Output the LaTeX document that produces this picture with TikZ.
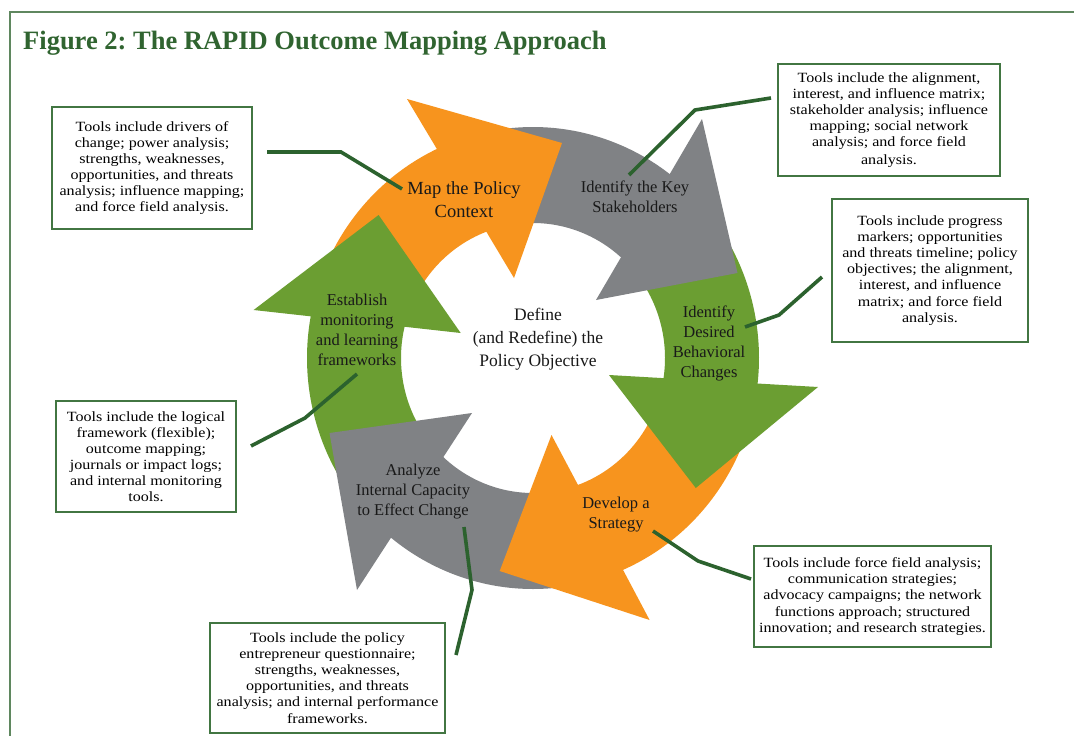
\documentclass[tikz,border=0pt]{standalone}
\usepackage{fontspec}
\setmainfont{Liberation Serif}
\newfontfamily\boxfont[FakeStretch=1.14]{Liberation Serif}
\definecolor{orng}{RGB}{247,148,30}
\definecolor{gry}{RGB}{128,130,133}
\definecolor{grn}{RGB}{107,158,50}
\definecolor{lnk}{RGB}{44,98,46}
\definecolor{bord}{RGB}{66,118,66}
\definecolor{ttl}{RGB}{48,100,48}
\definecolor{frm}{RGB}{95,135,95}
\newcommand\ringband[3]{\fill[#1] plot[domain=#2:#3,samples=60] ({533+226*cos(\x)},{358-231*sin(\x)}) -- plot[domain=#3:#2,samples=60] ({533+132*cos(\x)},{358-135*sin(\x)}) -- cycle;}
\tikzset{
  toolbox/.style={draw=bord, line width=1.1pt, fill=white, align=center, inner sep=0pt,
    font=\boxfont\fontsize{14.1}{16.1}\selectfont},
  steplabel/.style={align=center, inner sep=0pt, text=black!90,
    font=\fontsize{16.5}{20}\selectfont},
  link/.style={draw=lnk, line width=3.6pt, line join=miter}
}
\frenchspacing
\begin{document}
\begin{tikzpicture}[x=1pt,y=-1pt]
\useasboundingbox (0,0) rectangle (1074,736);
\fill[white] (0,0) rectangle (1074,736);
% frame
\draw[frm, line width=1.8pt] (10,736) -- (10,12) -- (1074,12);
% title
\node[anchor=base west, inner sep=0pt, text=ttl, font=\fontsize{26.5}{30}\selectfont\bfseries] (title) at (23,49) {Figure 2: The RAPID Outcome Mapping Approach};

% ring bands
\ringband{orng}{163}{110}
\ringband{gry}{107}{45}
\ringband{grn}{44}{-11}
\ringband{orng}{-13}{-71}
\ringband{gry}{-74}{-133}
\ringband{grn}{-136}{-194}
% arrow heads
\fill[orng] (407,99) -- (562,143) -- (514,278) -- cycle;
\fill[gry] (702,119) -- (737.5,273) -- (596,300) -- cycle;
\fill[grn] (609,375) -- (818,387) -- (695.8,488) -- cycle;
\fill[orng] (551.5,435) -- (649.6,620) -- (499.7,571) -- cycle;
\fill[gry] (472,413) -- (329.5,433) -- (357,590) -- cycle;
\fill[grn] (253.6,310) -- (378.6,215) -- (460.7,333) -- cycle;

% step labels
\node[steplabel, font=\fontsize{18.5}{23}\selectfont] (map) at (464,200) {Map the Policy\\Context};
\node[steplabel] (key) at (635,197) {Identify the Key\\Stakeholders};
\node[steplabel] (desired) at (709,343) {Identify\\Desired\\Behavioral\\Changes};
\node[steplabel] (develop) at (616,515) {Develop a\\Strategy};
\node[steplabel] (analyze) at (413,492) {Analyze\\Internal Capacity\\to Effect Change};
\node[steplabel] (establish) at (357,330) {Establish\\monitoring\\and learning\\frameworks};
\node[steplabel, font=\fontsize{17.5}{23}\selectfont] (define) at (538,339) {Define\\(and Redefine) the\\Policy Objective};

% tool boxes
\node[toolbox, minimum width=200pt, minimum height=122pt] (box1) at (152,168) {Tools include drivers of\\change; power analysis;\\strengths, weaknesses,\\opportunities, and threats\\analysis; influence mapping;\\and force field analysis.};
\node[toolbox, minimum width=222pt, minimum height=112pt] (box2) at (889,120) {Tools include the alignment,\\interest, and influence matrix;\\stakeholder analysis; influence\\mapping; social network\\analysis; and force field\\[2pt]analysis.};
\node[toolbox, minimum width=196pt, minimum height=143pt] (box3) at (930,270.5) {Tools include progress\\markers; opportunities\\and threats timeline; policy\\objectives; the alignment,\\interest, and influence\\matrix; and force field\\analysis.};
\node[toolbox, minimum width=180pt, minimum height=111pt] (box4) at (146,456.5) {Tools include the logical\\framework (flexible);\\outcome mapping;\\journals or impact logs;\\and internal monitoring\\tools.};
\node[toolbox, minimum width=235pt, minimum height=110pt] (box5) at (327.5,678) {Tools include the policy\\entrepreneur questionnaire;\\strengths, weaknesses,\\opportunities, and threats\\analysis; and internal performance\\frameworks.};
\node[toolbox, minimum width=237pt, minimum height=101pt] (box6) at (872.5,596.5) {Tools include force field analysis;\\communication strategies;\\advocacy campaigns; the network\\functions approach; structured\\innovation; and research strategies.};

% connectors
\coordinate (c1a) at (267,152); \coordinate (c1b) at (341,152); \coordinate (c1c) at (402,189);
\draw[link] (c1a) -- (c1b) -- (c1c);
\coordinate (c2a) at (771,98); \coordinate (c2b) at (695,110); \coordinate (c2c) at (629,175);
\draw[link] (c2a) -- (c2b) -- (c2c);
\coordinate (c3a) at (822,277); \coordinate (c3b) at (779,315); \coordinate (c3c) at (745,327);
\draw[link] (c3a) -- (c3b) -- (c3c);
\coordinate (c4a) at (357,374); \coordinate (c4b) at (305,418); \coordinate (c4c) at (251,446);
\draw[link] (c4a) -- (c4b) -- (c4c);
\coordinate (c5a) at (464,527); \coordinate (c5b) at (472,590); \coordinate (c5c) at (456,655);
\draw[link] (c5a) -- (c5b) -- (c5c);
\coordinate (c6a) at (653,531); \coordinate (c6b) at (698,561); \coordinate (c6c) at (751,579);
\draw[link] (c6a) -- (c6b) -- (c6c);
\end{tikzpicture}
\end{document}
